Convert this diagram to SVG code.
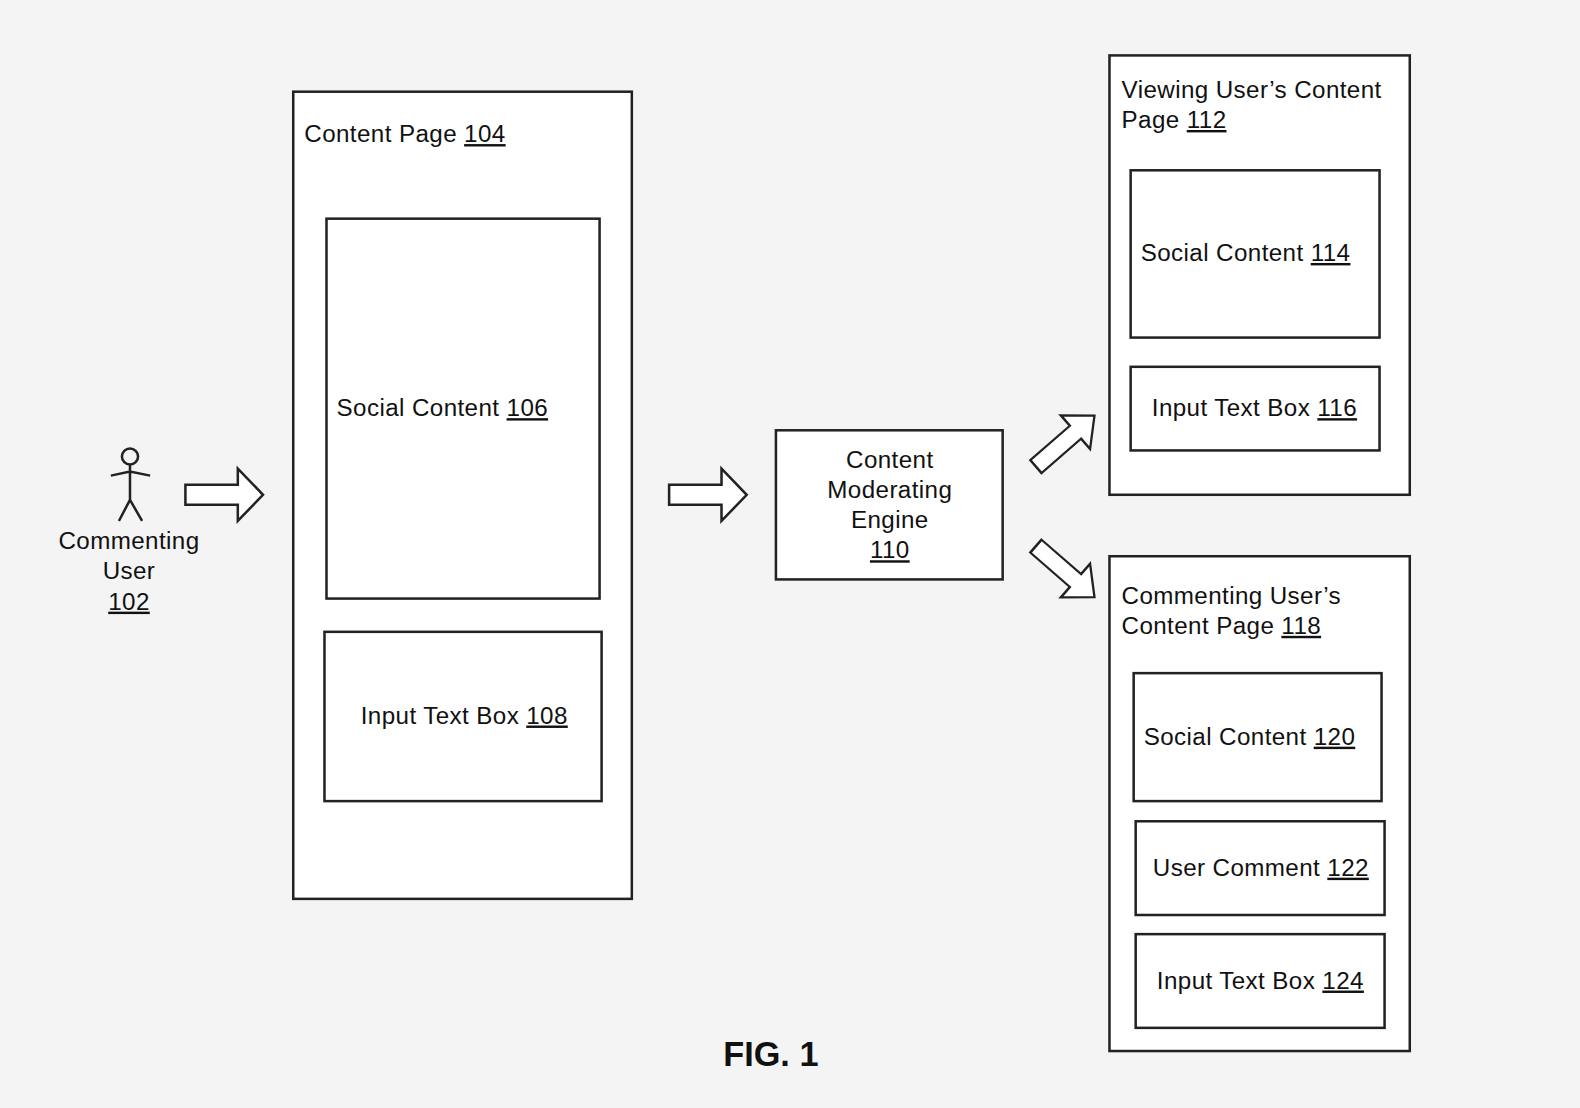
<svg xmlns="http://www.w3.org/2000/svg" width="1580" height="1108" viewBox="0 0 1580 1108">
<style>
.b{fill:#fff;stroke:#222;stroke-width:2.5}
.t{font-family:"Liberation Sans",Arial,sans-serif;font-size:24px;letter-spacing:0.4px;fill:#111}
.u{text-decoration:underline}
.ar{fill:#fff;stroke:#222;stroke-width:2.5;stroke-linejoin:miter}
</style>
<defs><path id="arr" d="M0,-10 H52 V-26 L77,0 L52,26 V10 H0 Z"/></defs>
<rect width="1580" height="1108" fill="#f4f4f4"/>
<g transform="scale(1.0077)">
<g id="user102">
<circle cx="129" cy="453" r="8" fill="none" stroke="#222" stroke-width="2.5"/>
<path d="M129,461 V496 M110,472 L129,468 L149,472 M118,517 L129,496 L141,517" fill="none" stroke="#222" stroke-width="2.5"/>
<text class="t" text-anchor="middle"><tspan x="128" y="545">Commenting</tspan><tspan x="128" y="575">User</tspan><tspan x="128" y="605" class="u">102</tspan></text>
</g>
<g id="page104"><rect class="b" x="291" y="91" width="336" height="801"/><text class="t" x="302" y="141">Content Page <tspan class="u">104</tspan></text></g>
<g id="social106"><rect class="b" x="324" y="217" width="271" height="377"/><text class="t" x="334" y="413">Social Content <tspan class="u">106</tspan></text></g>
<g id="input108"><rect class="b" x="322" y="627" width="275" height="168"/><text class="t" x="358" y="718">Input Text Box <tspan class="u">108</tspan></text></g>
<g id="engine110"><rect class="b" x="770" y="427" width="225" height="148"/><text class="t" text-anchor="middle"><tspan x="883" y="464">Content</tspan><tspan x="883" y="494">Moderating</tspan><tspan x="883" y="524">Engine</tspan><tspan x="883" y="554" class="u">110</tspan></text></g>
<g id="page112"><rect class="b" x="1101" y="55" width="298" height="436"/><text class="t"><tspan x="1113" y="97">Viewing User’s Content</tspan><tspan x="1113" y="127">Page <tspan class="u">112</tspan></tspan></text></g>
<g id="social114"><rect class="b" x="1122" y="169" width="247" height="166"/><text class="t" x="1132" y="259">Social Content <tspan class="u">114</tspan></text></g>
<g id="input116"><rect class="b" x="1122" y="364" width="247" height="83"/><text class="t" x="1143" y="413">Input Text Box <tspan class="u">116</tspan></text></g>
<g id="page118"><rect class="b" x="1101" y="552" width="298" height="491"/><text class="t"><tspan x="1113" y="599">Commenting User’s</tspan><tspan x="1113" y="629">Content Page <tspan class="u">118</tspan></tspan></text></g>
<g id="social120"><rect class="b" x="1125" y="668" width="246" height="127"/><text class="t" x="1135" y="739">Social Content <tspan class="u">120</tspan></text></g>
<g id="comment122"><rect class="b" x="1127" y="815" width="247" height="93"/><text class="t" x="1144" y="869">User Comment <tspan class="u">122</tspan></text></g>
<g id="input124"><rect class="b" x="1127" y="927" width="247" height="93"/><text class="t" x="1148" y="981">Input Text Box <tspan class="u">124</tspan></text></g>
<g id="connectors">
<use href="#arr" class="ar" transform="translate(1028,463) rotate(-41) scale(1,0.85)"/>
<use href="#arr" class="ar" transform="translate(1028,542) rotate(41) scale(1,0.85)"/>
<use href="#arr" class="ar" transform="translate(184,491)"/>
<use href="#arr" class="ar" transform="translate(664,491)"/>
</g>
<text x="765" y="1058" text-anchor="middle" style="font-family:'Liberation Sans',Arial,sans-serif;font-size:34px;font-weight:bold;fill:#111">FIG. 1</text>
</g>
</svg>
